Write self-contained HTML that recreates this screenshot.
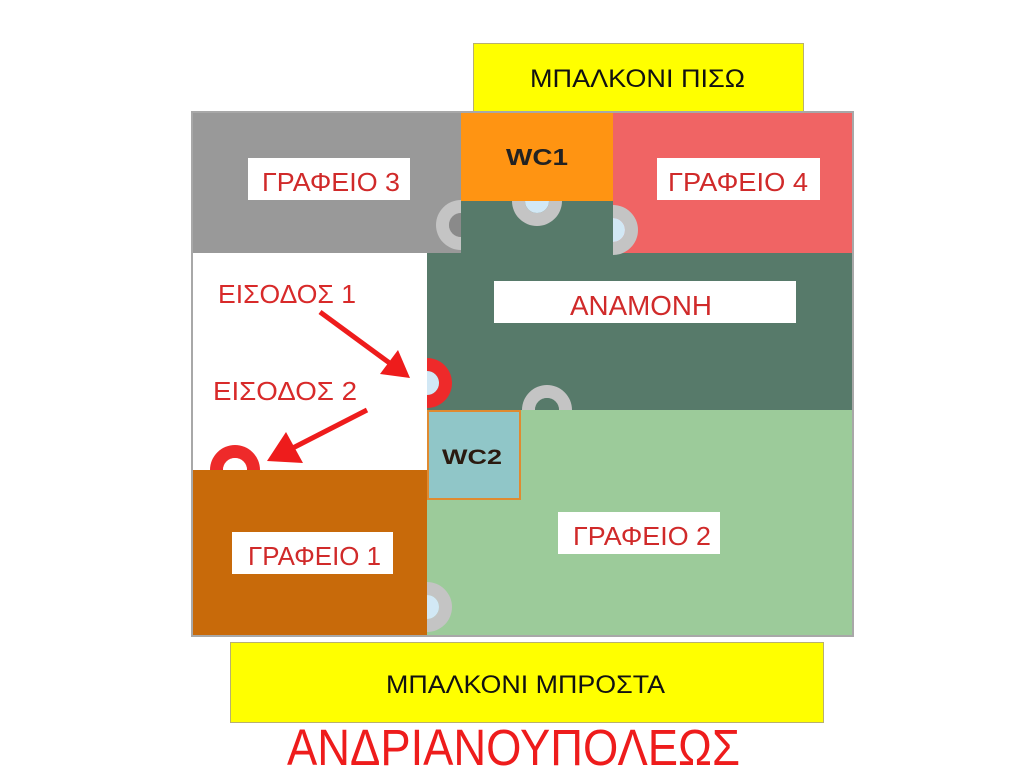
<!DOCTYPE html>
<html><head><meta charset="utf-8"><style>
html,body{margin:0;padding:0;background:#fff;width:1024px;height:768px;overflow:hidden}
svg{display:block}
text{font-family:"Liberation Sans","DejaVu Sans",sans-serif}
</style></head><body>
<svg width="1024" height="768" viewBox="0 0 1024 768" xmlns="http://www.w3.org/2000/svg">
<defs>
<path id="ring" d="M0,-25 A25,25 0 0 1 0,25 L0,12 A12,12 0 0 0 0,-12 Z"/>
<path id="half" d="M0,-12 A12,12 0 0 1 0,12 Z"/>
</defs>
<rect x="473.5" y="43.5" width="330" height="68" fill="#ffff00" stroke="#b8b070"/>
<text x="530" y="87" font-size="25" fill="#111" textLength="215" lengthAdjust="spacingAndGlyphs">ΜΠΑΛΚΟΝΙ ΠΙΣΩ</text>
<rect x="192" y="112" width="661" height="524" fill="#577a6a"/>
<rect x="192" y="112" width="269" height="141" fill="#999999"/>
<rect x="461" y="112" width="152" height="89" fill="#ff9412"/>
<rect x="613" y="112" width="240" height="141" fill="#f06464"/>
<rect x="192" y="253" width="235" height="217" fill="#ffffff"/>
<rect x="427" y="410" width="426" height="226" fill="#9ccb9a"/>
<rect x="192" y="470" width="235" height="166" fill="#c86a0a"/>
<rect x="428" y="411" width="92" height="88" fill="#90c6c8" stroke="#e08a30" stroke-width="2"/>
<rect x="192" y="112" width="661" height="524" fill="none" stroke="#a8a8a8" stroke-width="2"/>
<rect x="248" y="158" width="162" height="42" fill="#fff"/>
<text x="262" y="191" font-size="26" fill="#d02a2a" textLength="138" lengthAdjust="spacingAndGlyphs">ΓΡΑΦΕΙΟ 3</text>
<text x="506" y="165" font-size="23" font-weight="bold" fill="#222" textLength="62" lengthAdjust="spacingAndGlyphs">WC1</text>
<rect x="657" y="158" width="163" height="42" fill="#fff"/>
<text x="668" y="191" font-size="26" fill="#d02a2a" textLength="140" lengthAdjust="spacingAndGlyphs">ΓΡΑΦΕΙΟ 4</text>
<rect x="494" y="281" width="302" height="42" fill="#fff"/>
<text x="570" y="315" font-size="28" fill="#d02a2a" textLength="142" lengthAdjust="spacingAndGlyphs">ΑΝΑΜΟΝΗ</text>
<text x="218" y="303" font-size="26" fill="#d82a2a" textLength="138" lengthAdjust="spacingAndGlyphs">ΕΙΣΟΔΟΣ 1</text>
<text x="213" y="400" font-size="26" fill="#d82a2a" textLength="144" lengthAdjust="spacingAndGlyphs">ΕΙΣΟΔΟΣ 2</text>
<text x="442" y="464" font-size="21" font-weight="bold" fill="#2a1a10" textLength="60" lengthAdjust="spacingAndGlyphs">WC2</text>
<rect x="558" y="512" width="162" height="42" fill="#fff"/>
<text x="573" y="545" font-size="26" fill="#d02a2a" textLength="138" lengthAdjust="spacingAndGlyphs">ΓΡΑΦΕΙΟ 2</text>
<rect x="232" y="532" width="161" height="42" fill="#fff"/>
<text x="248" y="565" font-size="26" fill="#d02a2a" textLength="133" lengthAdjust="spacingAndGlyphs">ΓΡΑΦΕΙΟ 1</text>
<!-- doors -->
<g transform="translate(461,225) rotate(180)"><use href="#ring" fill="#c4c4c4"/><use href="#half" fill="#8a8a8a"/></g>
<g transform="translate(537,201) rotate(90)"><use href="#ring" fill="#c4c4c4"/><use href="#half" fill="#d2e8f5"/></g>
<g transform="translate(613,230)"><use href="#ring" fill="#c4c4c4"/><use href="#half" fill="#d2e8f5"/></g>
<g transform="translate(427,383)"><use href="#ring" fill="#ee2a2a"/><use href="#half" fill="#d2e8f5"/></g>
<g transform="translate(547,410) rotate(-90)"><use href="#ring" fill="#c4c4c4"/><use href="#half" fill="#577a6a"/></g>
<g transform="translate(235,470) rotate(-90)"><use href="#ring" fill="#ee2a2a"/><use href="#half" fill="#ffffff"/></g>
<g transform="translate(427,607)"><use href="#ring" fill="#c4c4c4"/><use href="#half" fill="#d2e8f5"/></g>
<line x1="320" y1="312" x2="395" y2="367" stroke="#ee1c1c" stroke-width="5"/>
<polygon points="410,378 380,374 398,350" fill="#ee1c1c"/>
<line x1="367" y1="410" x2="285" y2="452" stroke="#ee1c1c" stroke-width="5"/>
<polygon points="267,461 286,432 303,463" fill="#ee1c1c"/>
<rect x="230.5" y="642.5" width="593" height="80" fill="#ffff00" stroke="#b8b070"/>
<text x="386" y="693" font-size="25" fill="#111" textLength="279" lengthAdjust="spacingAndGlyphs">ΜΠΑΛΚΟΝΙ ΜΠΡΟΣΤΑ</text>
<text x="287" y="765" font-size="51" fill="#ee1c1c" textLength="453" lengthAdjust="spacingAndGlyphs">ΑΝΔΡΙΑΝΟΥΠΟΛΕΩΣ</text>
</svg>
</body></html>
